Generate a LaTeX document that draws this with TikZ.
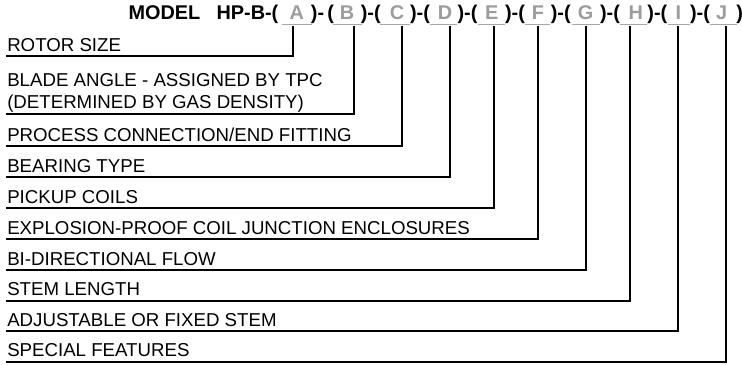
\documentclass[tikz,border=0pt]{standalone}
\usepackage{fontspec}
\setmainfont{Liberation Sans}
\definecolor{lettergray}{HTML}{9C9C9C}
\definecolor{linegray}{HTML}{A8A8A8}
\begin{document}
\begin{tikzpicture}[x=0.75pt,y=-0.75pt,
  hdr/.style={inner sep=0pt,font=\fontsize{14.9pt}{16pt}\selectfont\bfseries},
  ltr/.style={hdr,text=lettergray,anchor=base},
  sep/.style={hdr,anchor=base},
  lbl/.style={inner sep=0pt,anchor=base west,font=\fontsize{14pt}{16pt}\selectfont},
  uline/.style={draw=linegray,line width=1.2pt},
  conn/.style={draw=black,line width=1.5pt}]
\useasboundingbox (0,0) rectangle (742,364);
% header
\node[hdr,anchor=base west] (model) at (128.3,19.5) {MODEL};
\node[hdr,anchor=base east] (hpb) at (278.6,19.5) {HP-B-(};
\node[ltr] (A) at (296.7,19.5) {A};
\node[sep] (s1) at (322.5,19.5) {)-\,(};
\node[ltr] (B) at (347.0,19.5) {B};
\node[sep] (s2) at (370.8,19.5) {)-(};
\node[ltr] (C) at (397.0,19.5) {C};
\node[sep] (s3) at (420.0,19.5) {)-(};
\node[ltr] (D) at (445.0,19.5) {D};
\node[sep] (s4) at (467.5,19.5) {)-(};
\node[ltr] (E) at (491.7,19.5) {E};
\node[sep] (s5) at (515.0,19.5) {)-(};
\node[ltr] (F) at (538.0,19.5) {F};
\node[sep] (s6) at (560.8,19.5) {)-(};
\node[ltr] (G) at (585.7,19.5) {G};
\node[sep] (s7) at (610.0,19.5) {)-(};
\node[ltr] (H) at (635.8,19.5) {H};
\node[sep] (s8) at (657.3,19.5) {)-(};
\node[ltr] (I) at (678.3,19.5) {I};
\node[sep] (s9) at (700.0,19.5) {)-(};
\node[ltr] (J) at (721.7,19.5) {J};
\node[hdr,anchor=base west] (s10) at (736.0,19.5) {)};
% gray underlines
\draw[uline] (281.7,24.5) -- (311.7,24.5);
\draw[uline] (333.3,24.5) -- (361.7,24.5);
\draw[uline] (380.0,24.5) -- (410.0,24.5);
\draw[uline] (430.0,24.5) -- (456.7,24.5);
\draw[uline] (478.3,24.5) -- (505.0,24.5);
\draw[uline] (525.0,24.5) -- (550.0,24.5);
\draw[uline] (571.7,24.5) -- (600.0,24.5);
\draw[uline] (620.0,24.5) -- (646.7,24.5);
\draw[uline] (668.0,24.5) -- (690.0,24.5);
\draw[uline] (710.0,24.5) -- (736.7,24.5);
% connector tops
\coordinate (tA) at (293.3,26.3);
\coordinate (tB) at (354.0,26.3);
\coordinate (tC) at (402.0,26.3);
\coordinate (tD) at (450.0,26.3);
\coordinate (tE) at (493.8,26.3);
\coordinate (tF) at (538.0,26.3);
\coordinate (tG) at (586.2,26.3);
\coordinate (tH) at (630.0,26.3);
\coordinate (tI) at (678.0,26.3);
\coordinate (tJ) at (726.2,26.3);
% labels
\node[lbl] (lA) at (7,51.5) {ROTOR SIZE};
\node[lbl] (lB1) at (7,86) {BLADE ANGLE - ASSIGNED BY TPC};
\node[lbl] (lB) at (7,108) {(DETERMINED BY GAS DENSITY)};
\node[lbl] (lC) at (7,141) {PROCESS CONNECTION/END FITTING};
\node[lbl] (lD) at (7,172) {BEARING TYPE};
\node[lbl] (lE) at (7,203) {PICKUP COILS};
\node[lbl] (lF) at (7,234) {EXPLOSION-PROOF COIL JUNCTION ENCLOSURES};
\node[lbl] (lG) at (7,265) {BI-DIRECTIONAL FLOW};
\node[lbl] (lH) at (7,295.5) {STEM LENGTH};
\node[lbl] (lI) at (7,326) {ADJUSTABLE OR FIXED STEM};
\node[lbl] (lJ) at (7,356.5) {SPECIAL FEATURES};
% line starts
\coordinate (bA) at (6,56);
\coordinate (bB) at (6,113.5);
\coordinate (bC) at (6,146);
\coordinate (bD) at (6,177);
\coordinate (bE) at (6,208);
\coordinate (bF) at (6,239);
\coordinate (bG) at (6,270);
\coordinate (bH) at (6,300.5);
\coordinate (bI) at (6,331);
\coordinate (bJ) at (6,361.5);
% connectors
\foreach \k in {A,B,C,D,E,F,G,H,I,J}{
  \draw[conn] (b\k) -| (t\k);
}
\end{tikzpicture}
\end{document}
